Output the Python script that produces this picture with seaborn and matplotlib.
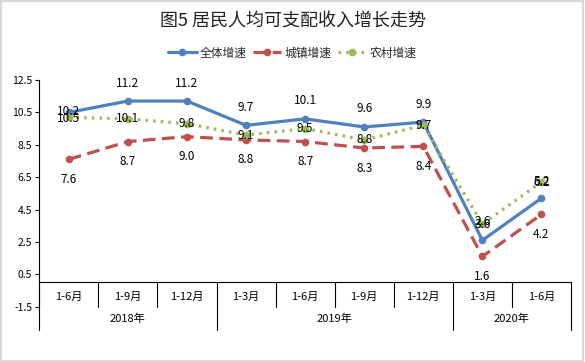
import numpy as np
import pandas as pd
import matplotlib
matplotlib.use("Agg")
import matplotlib.pyplot as plt
import seaborn as sns
from matplotlib.lines import Line2D
from matplotlib.patches import Rectangle

# ---------------- data ----------------
categories = ['1-6月', '1-9月', '1-12月', '1-3月', '1-6月', '1-9月', '1-12月', '1-3月', '1-6月']
years = ['2018年', '2019年', '2020年']
year_sizes = [3, 4, 2]
overall = [10.5, 11.2, 11.2, 9.7, 10.1, 9.6, 9.9, 2.6, 5.2]
urban = [7.6, 8.7, 9.0, 8.8, 8.7, 8.3, 8.4, 1.6, 4.2]
rural = [10.2, 10.1, 9.8, 9.1, 9.5, 8.8, 9.7, 3.6, 6.2]
series_names = ['全体增速', '城镇增速', '农村增速']
y_ticks = [-1.5, 0.5, 2.5, 4.5, 6.5, 8.5, 10.5, 12.5]

colors = {'全体增速': '#4F81BD', '城镇增速': '#C0504D', '农村增速': '#9BBB59'}
dashes = {'全体增速': '', '城镇增速': (4, 2), '农村增速': (0.8, 1.6)}
# label offsets in pixels (positive = up)
label_offsets = {
    '全体增速': [-6, 18, 18, 18, 18, 18, 18, 19, 17],
    '城镇增速': [-20] * 9,
    '农村增速': [6, 0, 0, 0, 0, 0, 0, 0, 0],
}

pos = list(range(len(categories)))
df = pd.DataFrame({
    'pos': pos * 3,
    'value': overall + urban + rural,
    'series': [s for s in series_names for _ in pos],
})

sns.set_theme(style='white')
plt.rcParams['font.family'] = ['Noto Sans CJK SC', 'DejaVu Sans']

fig = plt.figure(figsize=(5.85, 3.62), dpi=100)
ax = fig.add_axes([0.0672, 0.1528, 0.976 - 0.0672, 0.779 - 0.1528])

sns.lineplot(data=df, x='pos', y='value', hue='series', style='series',
             hue_order=series_names, style_order=series_names,
             palette=colors, dashes=dashes,
             markers={s: 'o' for s in series_names},
             markersize=5.5, markeredgewidth=0, linewidth=2.3,
             legend=False, ax=ax)

# data labels
for name, vals in zip(series_names, [overall, urban, rural]):
    for x, v, off in zip(pos, vals, label_offsets[name]):
        ax.annotate(f'{v:.1f}', xy=(x, v), xytext=(0, off), textcoords='offset pixels',
                    ha='center', va='center', fontsize=8.5, color='black', zorder=10)

ax.set_xlim(-0.5, len(categories) - 0.5)
ax.set_ylim(-1.5, 12.5)
ax.set_yticks(y_ticks)
ax.set_yticklabels([f'{t:.1f}' for t in y_ticks], fontsize=7.5, color='black')
ax.set_xticks([])
ax.set_xlabel('')
ax.set_ylabel('')
for s in ['top', 'right', 'bottom']:
    ax.spines[s].set_visible(False)
ax.spines['left'].set_color('black')
ax.spines['left'].set_linewidth(0.8)
ax.tick_params(axis='y', which='major', left=True, length=3, width=0.8, color='black', pad=2)
ax.axhline(0, color='black', lw=0.8, zorder=1)

# multi-level category axis
boundaries = np.cumsum([0] + year_sizes) - 0.5
group_bounds = set(np.round(boundaries, 2))
for b in np.arange(-0.5, len(categories), 1.0):
    low = -2.95 if round(b, 2) in group_bounds else -1.5
    ax.plot([b, b], [0, low], color='black', lw=0.8, clip_on=False, zorder=1)
for x, c in zip(pos, categories):
    ax.text(x, -0.9, c, ha='center', va='center', fontsize=8, color='black')
for i, y in enumerate(years):
    center = (boundaries[i] + boundaries[i + 1]) / 2
    ax.text(center, -2.27, y, ha='center', va='center', fontsize=8, color='black')

# title
fig.text(0.5, 0.939, '图5 居民人均可支配收入增长走势', ha='center', va='center', fontsize=13, color='#222222')

# legend
handles = [Line2D([0], [0], color=colors[s], lw=2.3, marker='o', markersize=5.5,
                  markeredgewidth=0,
                  dashes=dashes[s] if dashes[s] else (None, None) ) if dashes[s] else
           Line2D([0], [0], color=colors[s], lw=2.3, marker='o', markersize=5.5, markeredgewidth=0)
           for s in series_names]
fig.legend(handles, series_names, loc='center', bbox_to_anchor=(0.5, 0.854), ncol=3,
           frameon=False, fontsize=8.5, handlelength=2.4, handletextpad=0.3,
           columnspacing=0.5)

# chart border
fig.patches.append(Rectangle((0.002, 0.004), 0.995, 0.992, transform=fig.transFigure,
                             fill=False, edgecolor='#D9D9D9', lw=1.5))

fig.savefig('out.png', dpi=100)
